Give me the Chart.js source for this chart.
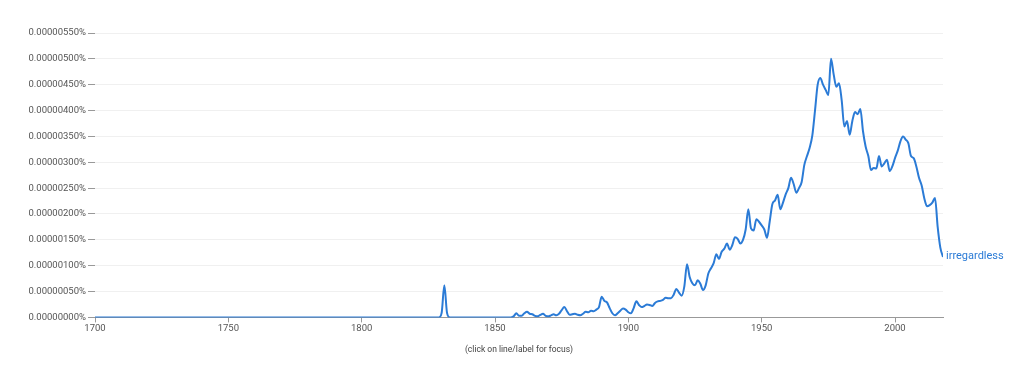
<!DOCTYPE html>
<html>
<head>
<meta charset="utf-8">
<script src="https://cdn.jsdelivr.net/npm/chart.js@4"></script>
<style>
    body { margin: 0; background: #fff; }
    #wrap { width: 1022px; height: 369px; }
</style>
</head>
<body>
<div id="wrap"><canvas id="chart" width="1022" height="369"></canvas></div>
<script>
//данные: частота слова, единица = 0.00000001%
const seriesName = "irregardless";
const startYear = 1700;
const endYear = 2018;
// 1700 - 1829
const values1700 = [
    0, 0, 0, 0, 0, 0, 0, 0, 0, 0, 0, 0, 0, 0, 0, 0, 0, 0, 0, 0,
    0, 0, 0, 0, 0, 0, 0, 0, 0, 0, 0, 0, 0, 0, 0, 0, 0, 0, 0, 0,
    0, 0, 0, 0, 0, 0, 0, 0, 0, 0, 0, 0, 0, 0, 0, 0, 0, 0, 0, 0,
    0, 0, 0, 0, 0, 0, 0, 0, 0, 0, 0, 0, 0, 0, 0, 0, 0, 0, 0, 0,
    0, 0, 0, 0, 0, 0, 0, 0, 0, 0, 0, 0, 0, 0, 0, 0, 0, 0, 0, 0,
    0, 0, 0, 0, 0, 0, 0, 0, 0, 0, 0, 0, 0, 0, 0, 0, 0, 0, 0, 0,
    0, 0, 0, 0, 0, 0, 0, 0, 0, 0,
];
// 1830 - 1899
const values1830 = [
    9, 62, 9, 0, 0, 0, 0, 0, 0, 0,
    0, 0, 0, 0, 0, 0, 0, 0, 0, 0,
    0, 0, 0, 0, 0, 0, 0, 2, 8, 3,
    3, 8, 11, 7, 6, 3, 2, 5, 7, 3,
    2, 4, 6, 4, 7, 14, 20, 12, 5, 6,
    7, 5, 4, 7, 11, 10, 13, 12, 15, 20,
    40, 32, 29, 18, 8, 4, 8, 13, 17, 15,
];
// 1900 - 1959
const values1900 = [
    10, 8, 18, 31, 24, 20, 22, 25, 24, 22,
    28, 31, 32, 34, 38, 37, 37, 44, 55, 48,
    42, 60, 103, 78, 66, 62, 72, 65, 53, 62,
    85, 95, 105, 122, 113, 127, 133, 143, 131, 140,
    155, 152, 143, 150, 170, 209, 172, 168, 190, 185,
    178, 170, 154, 185, 219, 226, 237, 209, 222, 238,
];
// 1960 - 2018
const values1960 = [
    250, 270, 258, 241, 250, 262, 295, 312, 328, 352,
    400, 450, 463, 450, 440, 430, 500, 470, 446, 453,
    420, 369, 380, 353, 380, 397, 393, 403, 360, 330,
    312, 285, 289, 288, 312, 292, 298, 305, 283, 292,
    308, 322, 340, 350, 344, 337, 312, 308, 292, 270,
    255, 230, 215, 217, 222, 231, 175, 135, 117,
];
const yTicks = [0, 50, 100, 150, 200, 250, 300, 350, 400, 450, 500, 550];
const xTicks = [1700, 1750, 1800, 1850, 1900, 1950, 2000];

const lineColor = "#2b7bd6";
const values = values1700.concat(values1830, values1900, values1960);
const points = values.map((v, i) => ({ x: startYear + i, y: v }));

//подпись в конце линии
const endLabel = {
    id: "endLabel",
    afterDatasetsDraw(chart) {
        const meta = chart.getDatasetMeta(0);
        const last = meta.data[meta.data.length - 1];
        const ctx = chart.ctx;
        ctx.save();
        ctx.font = "11px Roboto";
        ctx.fillStyle = lineColor;
        ctx.textAlign = "left";
        ctx.textBaseline = "middle";
        ctx.fillText(seriesName, last.x + 3, last.y - 1);
        ctx.restore();
    },
};

new Chart(document.getElementById("chart"), {
    type: "line",
    data: {
        datasets: [
            {
                label: seriesName,
                data: points,
                borderColor: lineColor,
                borderWidth: 2,
                pointRadius: 0,
                fill: false,
                cubicInterpolationMode: "monotone",
            },
        ],
    },
    options: {
        responsive: false,
        animation: false,
        layout: { padding: { top: 33, right: 79, bottom: 14, left: 0 } },
        plugins: {
            legend: { display: false },
            tooltip: { enabled: false },
        },
        scales: {
            x: {
                type: "linear",
                min: startYear,
                max: endYear,
                afterBuildTicks: (scale) => {
                    scale.ticks = xTicks.map((v) => ({ value: v }));
                },
                ticks: {
                    color: "#555",
                    font: { family: "Roboto", size: 9.5 },
                    padding: 1,
                    maxRotation: 0,
                    callback: (v) => String(v),
                },
                grid: {
                    drawOnChartArea: false,
                    tickLength: 5,
                    tickColor: "#999",
                },
                border: { color: "#999" },
                title: {
                    display: true,
                    text: "(click on line/label for focus)",
                    color: "#444",
                    font: { family: "Roboto", size: 8.5 },
                    padding: { top: 9, bottom: 0 },
                },
            },
            y: {
                min: 0,
                max: 550,
                afterBuildTicks: (scale) => {
                    scale.ticks = yTicks.map((v) => ({ value: v }));
                },
                afterFit: (scale) => {
                    scale.width = 95;
                },
                ticks: {
                    color: "#555",
                    font: { family: "Roboto", size: 9.5 },
                    padding: 2,
                    callback: (v) => (v / 1e8).toFixed(8) + "%",
                },
                grid: {
                    color: "#f0f0f0",
                    tickColor: "#999",
                    tickLength: 7,
                },
                border: { display: false },
            },
        },
    },
    plugins: [endLabel],
});
</script>
</body>
</html>
